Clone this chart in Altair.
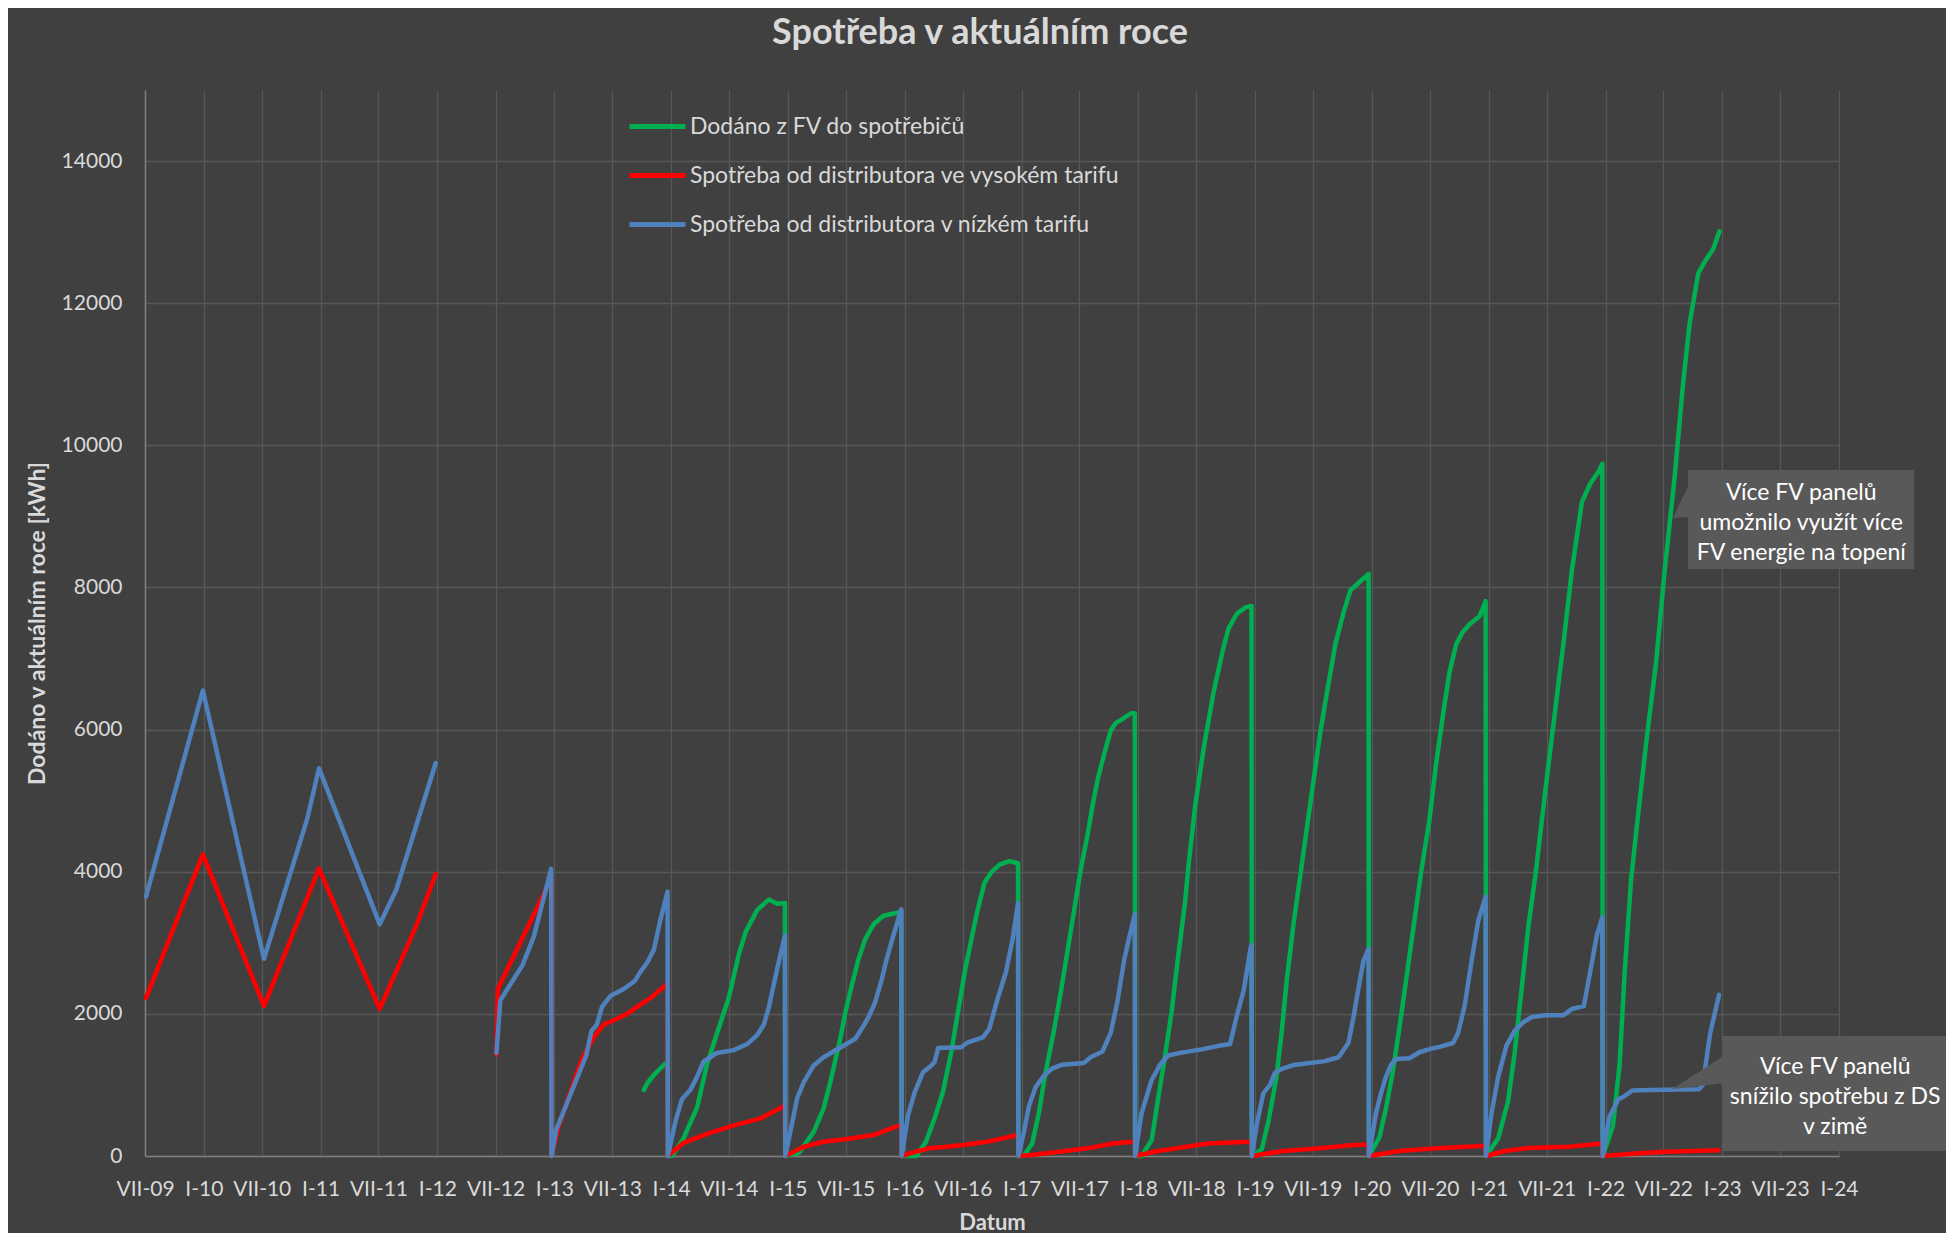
import pandas as pd
import altair as alt

# --- data (kWh, cumulative within the year) ---
SERIES = [
    "Dodáno z FV do spotřebičů",
    "Spotřeba od distributora ve vysokém tarifu",
    "Spotřeba od distributora v nízkém tarifu",
]
COLORS = ["#00b050", "#ff0000", "#4f81bd"]

# None marks a gap in the record
green_dates = [
    "2013-10-08", "2013-10-18", "2013-11-08", "2013-11-29", "2013-12-14", "2013-12-21", "2013-12-22",
    "2014-01-04", "2014-02-09", "2014-03-23", "2014-04-24", "2014-05-25", "2014-06-30", "2014-08-01",
    "2014-08-22", "2014-09-27", "2014-11-03", "2014-11-29", "2014-12-23", "2014-12-24",
    "2015-02-04", "2015-03-23", "2015-04-23", "2015-05-14", "2015-06-14", "2015-06-30", "2015-07-20",
    "2015-08-10", "2015-08-31", "2015-09-26", "2015-10-27", "2015-12-02", "2015-12-22", "2015-12-23",
    "2016-02-07", "2016-03-08", "2016-04-04", "2016-04-30", "2016-05-26", "2016-06-16", "2016-07-07",
    "2016-07-28", "2016-08-17", "2016-09-07", "2016-09-28", "2016-10-24", "2016-11-24", "2016-12-21",
    "2016-12-22",
    "2017-01-08", "2017-02-03", "2017-02-24", "2017-03-11", "2017-03-22", "2017-04-12", "2017-05-03",
    "2017-05-24", "2017-06-14", "2017-07-05", "2017-07-26", "2017-08-11", "2017-08-27", "2017-09-17",
    "2017-10-07", "2017-10-23", "2017-11-13", "2017-12-09", "2017-12-21", "2017-12-22",
    "2018-01-11", "2018-02-12", "2018-03-04", "2018-03-25", "2018-04-15", "2018-05-06", "2018-05-27",
    "2018-06-07", "2018-06-28", "2018-07-24", "2018-08-24", "2018-09-24", "2018-10-10", "2018-11-05",
    "2018-12-02", "2018-12-21", "2018-12-22",
    "2019-01-22", "2019-02-12", "2019-03-09", "2019-03-25", "2019-04-10", "2019-05-01", "2019-05-22",
    "2019-06-12", "2019-07-03", "2019-07-24", "2019-08-14", "2019-09-09", "2019-10-05", "2019-10-26",
    "2019-11-16", "2019-12-07", "2019-12-22", "2019-12-23",
    "2020-01-25", "2020-02-14", "2020-03-06", "2020-03-27", "2020-04-17", "2020-05-08", "2020-06-03",
    "2020-06-29", "2020-07-20", "2020-08-10", "2020-08-31", "2020-09-21", "2020-10-11", "2020-11-01",
    "2020-12-03", "2020-12-22", "2020-12-23",
    "2021-01-30", "2021-03-02", "2021-03-23", "2021-04-13", "2021-05-04", "2021-05-30", "2021-06-26",
    "2021-07-22", "2021-08-22", "2021-09-18", "2021-10-19", "2021-11-14", "2021-12-11", "2021-12-22",
    "2021-12-23",
    "2022-01-24", "2022-02-14", "2022-03-02", "2022-03-22", "2022-04-12", "2022-05-08", "2022-06-08",
    "2022-07-05", "2022-08-05", "2022-08-31", "2022-09-21", "2022-10-18", "2022-11-08", "2022-12-04",
    "2022-12-23",
]
green_kwh = [
    930, 1020, 1140, 1235, 1300, 1320, 0,
    0, 250, 680, 1300, 1730, 2220, 2840, 3150, 3460, 3610, 3550, 3560, 0,
    40, 340, 670, 1040, 1650, 2020, 2400, 2770, 3050, 3260, 3380, 3415, 3430, 0,
    0, 200, 530, 900, 1460, 2020, 2585, 3050, 3470, 3845, 3990, 4100, 4150, 4120, 0,
    0, 175, 600, 1020, 1285, 1760, 2290, 2870, 3450, 4035, 4510, 4930, 5300, 5670,
    5990, 6095, 6150, 6230, 6230, 0,
    0, 225, 810, 1390, 2025, 2820, 3560, 4090, 4930, 5725, 6520, 7150, 7420, 7630, 7720, 7740, 0,
    95, 490, 1110, 1730, 2465, 3255, 3930, 4610, 5285, 5960, 6525, 7200, 7650, 7960, 8045, 8130, 8190, 0,
    265, 660, 1170, 1790, 2465, 3140, 3985, 4720, 5510, 6185, 6805, 7200, 7370, 7480, 7595, 7810, 0,
    245, 765, 1460, 2330, 3200, 4070, 5115, 6070, 7200, 8245, 9200, 9460, 9635, 9740, 0,
    420, 1290, 2590, 3895, 4765, 5810, 6940, 8245, 9550, 10850, 11720, 12420, 12590, 12765, 13010,
]

red_dates = [
    "2009-07-04", "2009-12-29", "2010-07-08", "2010-12-27", "2011-07-05", "2011-10-29", "2011-12-27",
    None,
    "2012-07-04", "2012-07-08", "2012-12-22", "2012-12-23",
    "2013-01-15", "2013-03-28", "2013-05-04", "2013-06-04", "2013-07-06", "2013-08-16", "2013-09-27",
    "2013-10-28", "2013-12-09", "2013-12-21", "2013-12-22",
    "2014-01-04", "2014-02-09", "2014-04-24", "2014-07-16", "2014-10-06", "2014-12-11", "2014-12-23",
    "2014-12-24",
    "2015-02-20", "2015-04-23", "2015-07-05", "2015-09-26", "2015-11-06", "2015-12-13", "2015-12-22",
    "2015-12-23",
    "2016-01-28", "2016-03-20", "2016-05-11", "2016-07-02", "2016-09-14", "2016-11-05", "2016-12-19",
    "2016-12-21", "2016-12-22",
    "2017-02-03", "2017-05-19", "2017-08-11", "2017-10-12", "2017-12-14", "2017-12-21", "2017-12-22",
    "2018-03-04", "2018-05-16", "2018-08-08", "2018-12-12", "2018-12-21", "2018-12-22",
    "2019-03-30", "2019-07-14", "2019-10-26", "2019-12-22", "2019-12-23",
    "2020-03-27", "2020-07-10", "2020-12-22", "2020-12-23",
    "2021-02-20", "2021-05-04", "2021-09-07", "2021-12-22", "2021-12-23",
    "2022-03-24", "2022-07-07", "2022-12-20",
]
red_kwh = [
    2225, 4245, 2110, 4045, 2070, 3260, 3965,
    None,
    1430, 2350, 3900, 0,
    430, 1360, 1670, 1850, 1910, 2000, 2130, 2220, 2380, 2420, 0,
    50, 185, 310, 430, 525, 680, 720, 0,
    130, 200, 240, 295, 365, 425, 440, 0,
    50, 110, 130, 155, 200, 250, 295, 300, 0,
    15, 70, 120, 175, 200, 205, 0,
    70, 120, 175, 200, 205, 0,
    70, 107, 150, 162, 0,
    70, 107, 145, 0,
    70, 113, 130, 175, 0,
    30, 60, 80,
]

blue_dates = [
    "2009-07-04", "2009-12-29", "2010-07-08", "2010-11-20", "2010-12-27", "2011-07-05", "2011-08-26",
    "2011-12-27",
    None,
    "2012-07-04", "2012-07-16", "2012-09-24", "2012-10-29", "2012-12-22", "2012-12-23",
    "2013-01-07", "2013-04-11", "2013-04-27", "2013-05-14", "2013-05-30", "2013-06-25", "2013-08-06",
    "2013-09-11", "2013-09-27", "2013-10-18", "2013-11-08", "2013-11-29", "2013-12-21", "2013-12-22",
    "2014-01-15", "2014-02-04", "2014-03-02", "2014-03-23", "2014-04-13", "2014-05-25", "2014-07-16",
    "2014-08-27", "2014-09-27", "2014-10-18", "2014-11-03", "2014-11-18", "2014-12-09", "2014-12-23",
    "2014-12-24",
    "2015-01-09", "2015-01-30", "2015-02-20", "2015-03-23", "2015-04-23", "2015-05-29", "2015-07-05",
    "2015-07-31", "2015-08-20", "2015-09-10", "2015-10-01", "2015-10-21", "2015-11-06", "2015-11-27",
    "2015-12-22", "2015-12-23",
    "2016-01-12", "2016-02-02", "2016-02-28", "2016-03-25", "2016-04-04", "2016-04-15", "2016-06-26",
    "2016-07-17", "2016-09-02", "2016-09-22", "2016-10-18", "2016-11-13", "2016-12-04", "2016-12-21",
    "2016-12-22",
    "2017-01-08", "2017-01-24", "2017-02-14", "2017-03-11", "2017-04-06", "2017-05-08", "2017-07-15",
    "2017-08-05", "2017-09-11", "2017-10-07", "2017-10-28", "2017-11-18", "2017-12-04", "2017-12-21",
    "2017-12-22",
    "2018-01-11", "2018-01-27", "2018-02-12", "2018-02-22", "2018-03-10", "2018-04-04", "2018-05-16",
    "2018-07-18", "2018-09-09", "2018-10-15", "2018-11-05", "2018-11-27", "2018-12-18", "2018-12-21",
    "2018-12-22",
    "2019-01-06", "2019-01-27", "2019-02-17", "2019-03-04", "2019-03-25", "2019-05-01", "2019-06-22",
    "2019-08-08", "2019-09-19", "2019-10-20", "2019-11-05", "2019-11-20", "2019-12-06", "2019-12-22",
    "2019-12-23",
    "2020-01-14", "2020-01-30", "2020-02-14", "2020-03-01", "2020-03-17", "2020-04-28", "2020-05-29",
    "2020-06-30", "2020-07-31", "2020-09-11", "2020-09-27", "2020-10-18", "2020-11-08", "2020-11-29",
    "2020-12-22", "2020-12-23",
    "2021-01-09", "2021-01-30", "2021-02-25", "2021-03-23", "2021-04-18", "2021-05-15", "2021-06-26",
    "2021-08-22", "2021-09-18", "2021-10-25", "2021-11-14", "2021-12-05", "2021-12-22", "2021-12-23",
    "2022-01-13", "2022-02-10", "2022-02-25", "2022-03-25", "2022-05-24", "2022-10-20", "2022-11-01",
    "2022-11-24", "2022-12-22",
]
blue_kwh = [
    3650, 6550, 2775, 4740, 5455, 3260, 3750, 5530,
    None,
    1450, 2190, 2690, 3090, 4040, 0,
    370, 1420, 1760, 1850, 2100, 2250, 2350, 2470, 2590, 2720, 2900, 3330, 3720, 0,
    490, 800, 930, 1110, 1330, 1450, 1490, 1575, 1700, 1850, 2100, 2410, 2840, 3100, 0,
    340, 810, 1040, 1275, 1390, 1485, 1580, 1650, 1790, 1950, 2160, 2470, 2770, 3100, 3470, 0,
    575, 900, 1180, 1275, 1320, 1520, 1530, 1600, 1670, 1790, 2210, 2585, 3050, 3560, 0,
    330, 700, 970, 1125, 1230, 1285, 1310, 1390, 1470, 1735, 2180, 2765, 3080, 3400, 0,
    600, 835, 1075, 1150, 1285, 1415, 1455, 1500, 1550, 1575, 1970, 2340, 2925, 2970, 0,
    435, 885, 1000, 1170, 1225, 1280, 1310, 1335, 1390, 1590, 1955, 2350, 2745, 2915, 0,
    600, 885, 1110, 1280, 1365, 1375, 1460, 1505, 1535, 1590, 1730, 2125, 2745, 3310, 3650, 0,
    590, 1110, 1550, 1765, 1880, 1955, 1980, 1980, 2070, 2110, 2590, 3110, 3360, 0,
    550, 800, 830, 920, 930, 940, 1000, 1720, 2270,
]

# callouts: text, box corners (date, kWh), first text line, pointer tip and pointer base
note_texts = [
    "Více FV panelů\numožnilo využít více\nFV energie na topení",
    "Více FV panelů\nsnížilo spotřebu z DS\nv zimě",
]
note_box_dates = [("2022-09-16", "2024-08-23"), ("2023-01-01", "2024-12-05")]
note_box_kwh = [(8259, 9652), (70, 1688)]
note_text_at = [("2023-09-05", 9336), ("2023-12-20", 1252)]
note_tip = [("2022-07-31", 8978), ("2022-07-27", 938)]
note_base = [("2022-09-17", 8991, 9431), ("2023-01-02", 1023, 1397)]


def series_frame(name, dates, kwh):
    rows, seg = [], 0
    for d, v in zip(dates, kwh):
        if d is None:
            seg += 1
            continue
        rows.append({"date": d, "kwh": v, "series": name, "seg": f"{name}-{seg}"})
    return pd.DataFrame(rows)


lines_df = pd.concat([
    series_frame(SERIES[0], green_dates, green_kwh),
    series_frame(SERIES[1], red_dates, red_kwh),
    series_frame(SERIES[2], blue_dates, blue_kwh),
])

boxes_df = pd.DataFrame({
    "date": [d[0] for d in note_box_dates], "date2": [d[1] for d in note_box_dates],
    "kwh": [k[0] for k in note_box_kwh], "kwh2": [k[1] for k in note_box_kwh],
})
ptr_rows = []
for i, (tip, base) in enumerate(zip(note_tip, note_base)):
    ptr_rows.append({"id": i, "date": tip[0], "kwh": tip[1], "kwh2": tip[1]})
    ptr_rows.append({"id": i, "date": base[0], "kwh": base[1], "kwh2": base[2]})
ptr_df = pd.DataFrame(ptr_rows)
text_df = pd.DataFrame({
    "date": [t[0] for t in note_text_at], "kwh": [t[1] for t in note_text_at], "label": note_texts,
})

FONT = "Lato"
TXT = "#d9d9d9"

x_values = [alt.DateTime(year=y, month=m, date=1, utc=True)
            for y in range(2009, 2025) for m in (1, 7)
            if (2009, 7) <= (y, m) <= (2024, 1)]
x_scale = alt.Scale(type="utc", domain=[x_values[0], x_values[-1]])
y_scale = alt.Scale(domain=[0, 15000], nice=False)

x_axis = alt.Axis(
    values=x_values,
    labelExpr="(utcFormat(datum.value, '%m') == '01' ? 'I-' : 'VII-') + utcFormat(datum.value, '%y')",
    ticks=False, labelPadding=22, labelOverlap=False, labelFlush=False,
    titlePadding=13, titleFontSize=22,
)
y_axis = alt.Axis(
    values=list(range(0, 14001, 2000)), format="d",
    ticks=False, labelPadding=23, titlePadding=12,
)

X = alt.X("date:T", title="Datum", scale=x_scale, axis=x_axis)
Y = alt.Y("kwh:Q", title="Dodáno v aktuálním roce [kWh]", scale=y_scale, axis=y_axis)

color = alt.Color(
    "series:N",
    scale=alt.Scale(domain=SERIES, range=COLORS),
    legend=alt.Legend(
        title=None, orient="none", legendX=482, legendY=6,
        symbolType="stroke", symbolSize=3136, symbolStrokeWidth=5,
        labelFontSize=23, labelColor=TXT, labelFont=FONT, labelLimit=1000,
        labelOffset=2, rowPadding=6, padding=0,
    ),
)

base = alt.Chart(lines_df).mark_line(strokeWidth=4.5, strokeJoin="round", strokeCap="round").encode(
    x=X, y=Y, color=color, detail="seg:N", order="date:T"
)
layers = [base.transform_filter(alt.datum.series == s) for s in SERIES]

boxes = alt.Chart(boxes_df).mark_rect(color="#595959").encode(
    x=X, x2="date2:T", y=Y, y2="kwh2:Q"
)
pointers = alt.Chart(ptr_df).mark_area(color="#595959").encode(
    x=X, y=Y, y2="kwh2:Q", detail="id:N"
)
notes = alt.Chart(text_df).mark_text(
    align="center", baseline="middle", lineBreak="\n", lineHeight=30,
    fontSize=23, font=FONT, color="#ffffff",
).encode(x=X, y=Y, text="label:N")

chart = alt.layer(*layers, boxes, pointers, notes).properties(
    width=1694,
    height=1066,
    autosize=alt.AutoSizeParams(type="none"),
    padding={"left": 137, "top": 82, "right": 107, "bottom": 77},
    background="#404040",
    title=alt.Title(
        "Spotřeba v aktuálním roce", fontSize=36, fontWeight="bold", font=FONT,
        color=TXT, anchor="middle", offset=38, dx=-12,
    ),
).configure_view(
    stroke=None
).configure_axis(
    labelFont=FONT, labelFontSize=21, labelColor=TXT,
    titleFont=FONT, titleFontSize=23, titleFontWeight="bold", titleColor=TXT,
    gridColor="#575757", gridWidth=1.3,
    domainColor="#808080", domainWidth=1.5,
)

chart.save("out.html", embed_options={"renderer": "svg", "actions": False})
